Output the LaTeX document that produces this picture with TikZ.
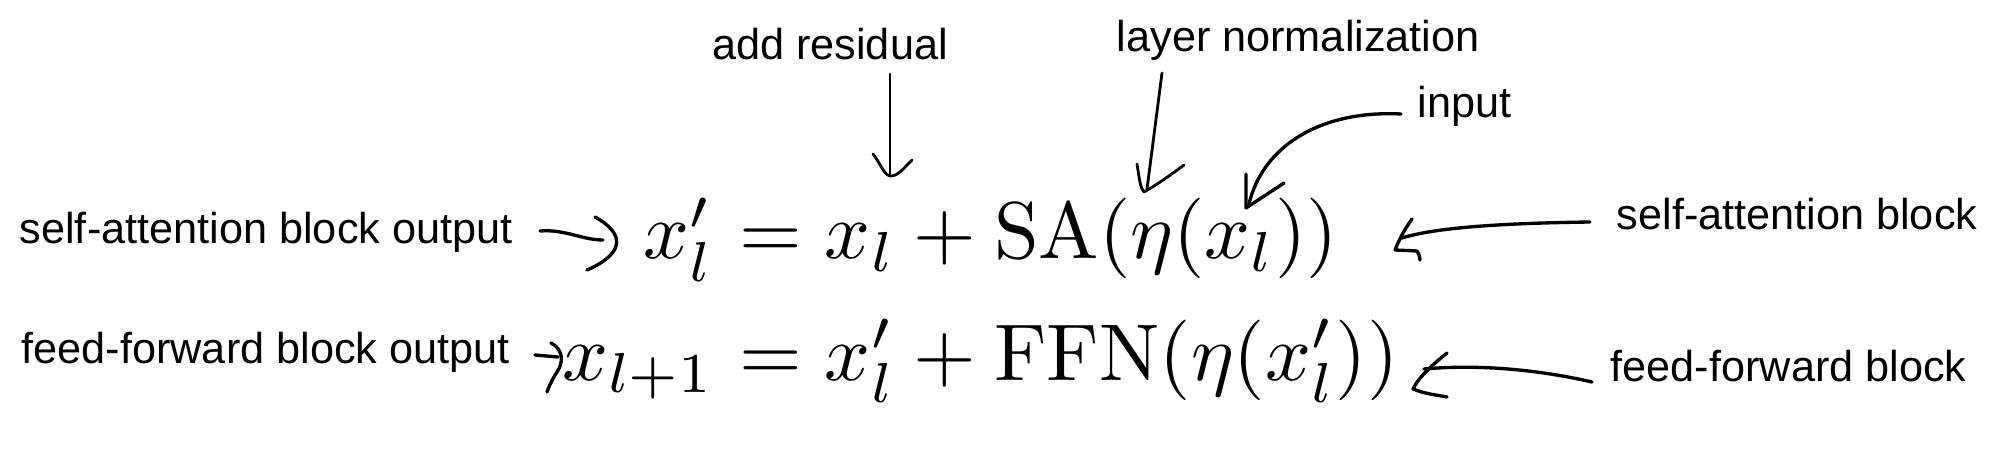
\documentclass[tikz,border=0pt]{standalone}
\usepackage[no-math]{fontspec}
\newfontfamily\lblfont{Liberation Sans}
\usepackage{amsmath}
\begin{document}
\begin{tikzpicture}[x=0.01cm,y=-0.01cm,
  lbl/.style={font=\lblfont\fontsize{12.3}{14.8}\selectfont, inner sep=0pt},
  eq/.style={inner sep=0pt, scale=2.29},
  pen/.style={line width=0.95pt, line cap=round, line join=round},
  thinpen/.style={line width=0.8pt, line cap=round, line join=round}]
\useasboundingbox (0,0) rectangle (2000,455);

% labels
\node[lbl, anchor=base west] (saout) at (19,244) {self-attention block output};
\node[lbl, anchor=base west] (ffout) at (21,364) {feed-forward block output};
\node[lbl, anchor=base] (addres) at (830,60) {add residual};
\node[lbl, anchor=base west] (lnorm) at (1116,52) {layer normalization};
\node[lbl, anchor=base west] (inp) at (1417,118) {input};
\node[lbl, anchor=base west] (sablk) at (1616,230) {self-attention block};
\node[lbl, anchor=base west] (ffblk) at (1610,382) {feed-forward block};

% equations
\node[eq, anchor=base east] (lhsA) at (716,259) {$x'_l$};
\node[eq, anchor=base west] (rhsA) at (716,259) {${}=x_l+\mathrm{SA}(\eta(x_l))$};
\node[eq, anchor=base east] (lhsB) at (716,380) {$x_{l+1}$};
\node[eq, anchor=base west] (rhsB) at (716,380) {${}=x'_l+\mathrm{FFN}(\eta(x'_l))$};

% arrow end points
\coordinate (saoutS) at (540,231);
\coordinate (saoutE) at (603,240);
\coordinate (ffoutS) at (535,355);
\coordinate (ffoutE) at (558,357);
\coordinate (addS) at (890,74);
\coordinate (addE) at (890,174);
\coordinate (lnS) at (1162,73);
\coordinate (lnE) at (1147,189);
\coordinate (inS) at (1401,114);
\coordinate (inE) at (1249,204);
\coordinate (sabS) at (1590,222);
\coordinate (sabE) at (1402,238);
\coordinate (ffbS) at (1592,382);
\coordinate (ffbE) at (1424,369);

% self-attention block output arrow
\draw[pen] (saoutS) .. controls (565,229) and (582,240) .. (saoutE);
\draw[pen] (595,217) .. controls (626,234) and (624,254) .. (587,270);

% feed-forward block output arrow
\draw[pen] (ffoutS) -- (ffoutE);
\draw[pen] (551,343) .. controls (563,349) and (564,362) .. (557,372) .. controls (552,380) and (549,386) .. (547,392);

% add residual arrow
\draw[thinpen] (addS) -- (addE);
\draw[thinpen] (873,154) .. controls (881,164) and (884,176) .. (891,176) .. controls (898,176) and (904,168) .. (912,160);

% layer normalization arrow
\draw[thinpen] (lnS) -- (lnE);
\draw[thinpen] (1137,164) .. controls (1139,176) and (1140,188) .. (1144,192) .. controls (1158,184) and (1172,174) .. (1184,165);

% input arrow
\draw[pen] (inS) .. controls (1322,110) and (1263,145) .. (inE);
\draw[pen] (1246,174) -- (1246,208) -- (1284,183);

% self-attention block arrow
\draw[pen] (sabS) .. controls (1520,223) and (1440,226) .. (sabE);
\draw[pen] (1412,219) .. controls (1404,230) and (1398,242) .. (1395,250) -- (1417,251) .. controls (1419,254) and (1420,257) .. (1420,260);

% feed-forward block arrow
\draw[pen] (ffbS) .. controls (1540,370) and (1480,364) .. (ffbE);
\draw[pen] (1447,353) .. controls (1432,365) and (1418,378) .. (1413,389) .. controls (1425,394) and (1437,395) .. (1447,397);
\end{tikzpicture}
\end{document}
